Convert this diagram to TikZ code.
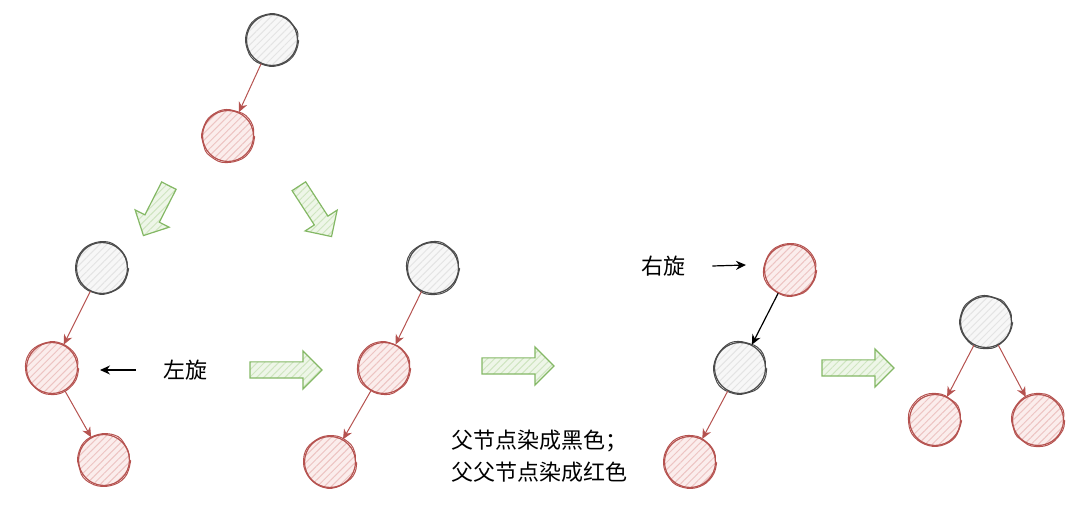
\documentclass[tikz,border=0pt]{standalone}
\usepackage{fontspec}
\newfontfamily\cjk{Noto Sans CJK SC}
\usetikzlibrary{arrows.meta,shapes.arrows,patterns.meta,decorations.pathmorphing}
\definecolor{redline}{HTML}{B5524F}
\definecolor{redfill}{HTML}{FBEDEC}
\definecolor{redhatch}{HTML}{EDC4C2}
\definecolor{grayline}{HTML}{4A4A4A}
\definecolor{grayfill}{HTML}{F7F7F7}
\definecolor{grayhatch}{HTML}{E4E4E4}
\definecolor{greenline}{HTML}{84B865}
\definecolor{greenfill}{HTML}{EEF6E8}
\definecolor{greenhatch}{HTML}{CFE5C0}
\tikzset{
  wobble/.style={decorate, decoration={random steps, segment length=4pt, amplitude=0.4pt}, rounded corners=1pt},
  rnode/.style={circle, minimum size=25.5pt, inner sep=0pt, draw=redline, line width=0.6pt,
    preaction={fill=redfill}, pattern={Lines[angle=45,distance=2.5pt,line width=0.5pt]}, pattern color=redhatch,
    postaction={draw=redline, line width=0.5pt, wobble}},
  bnode/.style={circle, minimum size=25.5pt, inner sep=0pt, draw=grayline, line width=0.6pt,
    preaction={fill=grayfill}, pattern={Lines[angle=45,distance=2.5pt,line width=0.5pt]}, pattern color=grayhatch,
    postaction={draw=grayline, line width=0.5pt, wobble}},
  redarrow/.style={-{Stealth[length=5pt,width=4.5pt]}, draw=redline, line width=0.5pt},
  blackarrow/.style={-{Stealth[length=5pt,width=4.5pt]}, draw=black, line width=0.6pt},
  bigarrow/.style={single arrow, draw=greenline, line width=0.6pt, inner sep=3.75pt,
    single arrow head extend=5.5pt, minimum height=36pt,
    preaction={fill=greenfill}, pattern={Lines[angle=45,distance=2.5pt,line width=0.5pt]}, pattern color=greenhatch},
  label/.style={font=\cjk\fontsize{11}{16}\selectfont, inner sep=0pt}
}
\begin{document}
\begin{tikzpicture}[x=0.5pt, y=-0.5pt]
	\useasboundingbox (0,0) rectangle (1080,528);

	% starting tree
	\node[bnode] (a) at (272,40) {};
	\node[rnode] (b) at (228,136) {};
	\draw[redarrow] (a) -- (b);

	\node[bigarrow, minimum height=28pt, rotate=-117] (ga) at (158,207) {};
	\node[bigarrow, minimum height=30pt, rotate=-57] (gb) at (313,208) {};

	% left case
	\node[bnode] (c) at (102,268) {};
	\node[rnode] (d) at (52,368) {};
	\node[rnode] (e) at (104,460) {};
	\draw[redarrow] (c) -- (d);
	\draw[redarrow] (d) -- (e);
	\node[label] (rotl) at (185,370) {左旋};
	\coordinate (rotlend) at (100,370);
	\draw[blackarrow] (rotl.west) ++(-27,0) -- (rotlend);

	\node[bigarrow] (gc) at (282,370) {};

	% after left rotation
	\node[bnode] (f) at (433,268) {};
	\node[rnode] (g) at (384,368) {};
	\node[rnode] (h) at (330,462) {};
	\draw[redarrow] (f) -- (g);
	\draw[redarrow] (g) -- (h);

	\node[bigarrow] (gd) at (514,366) {};
	\node[label, anchor=west, align=left] (note) at (451,456) {父节点染成黑色；\\父父节点染成红色};

	% recolored, before right rotation
	\node[rnode] (i) at (790,270) {};
	\node[bnode] (j) at (740,368) {};
	\node[rnode] (k) at (690,462) {};
	\draw[blackarrow] (i) -- (j);
	\draw[redarrow] (j) -- (k);
	\node[label] (rotr) at (663,266) {右旋};
	\coordinate (rotrend) at (746,265);
	\draw[blackarrow] (rotr.east) ++(27,0) -- (rotrend);

	\node[bigarrow] (ge) at (854,368) {};

	% final tree
	\node[bnode] (l) at (986,322) {};
	\node[rnode] (m) at (935,420) {};
	\node[rnode] (n) at (1038,420) {};
	\draw[redarrow] (l) -- (m);
	\draw[redarrow] (l) -- (n);
\end{tikzpicture}
\end{document}
